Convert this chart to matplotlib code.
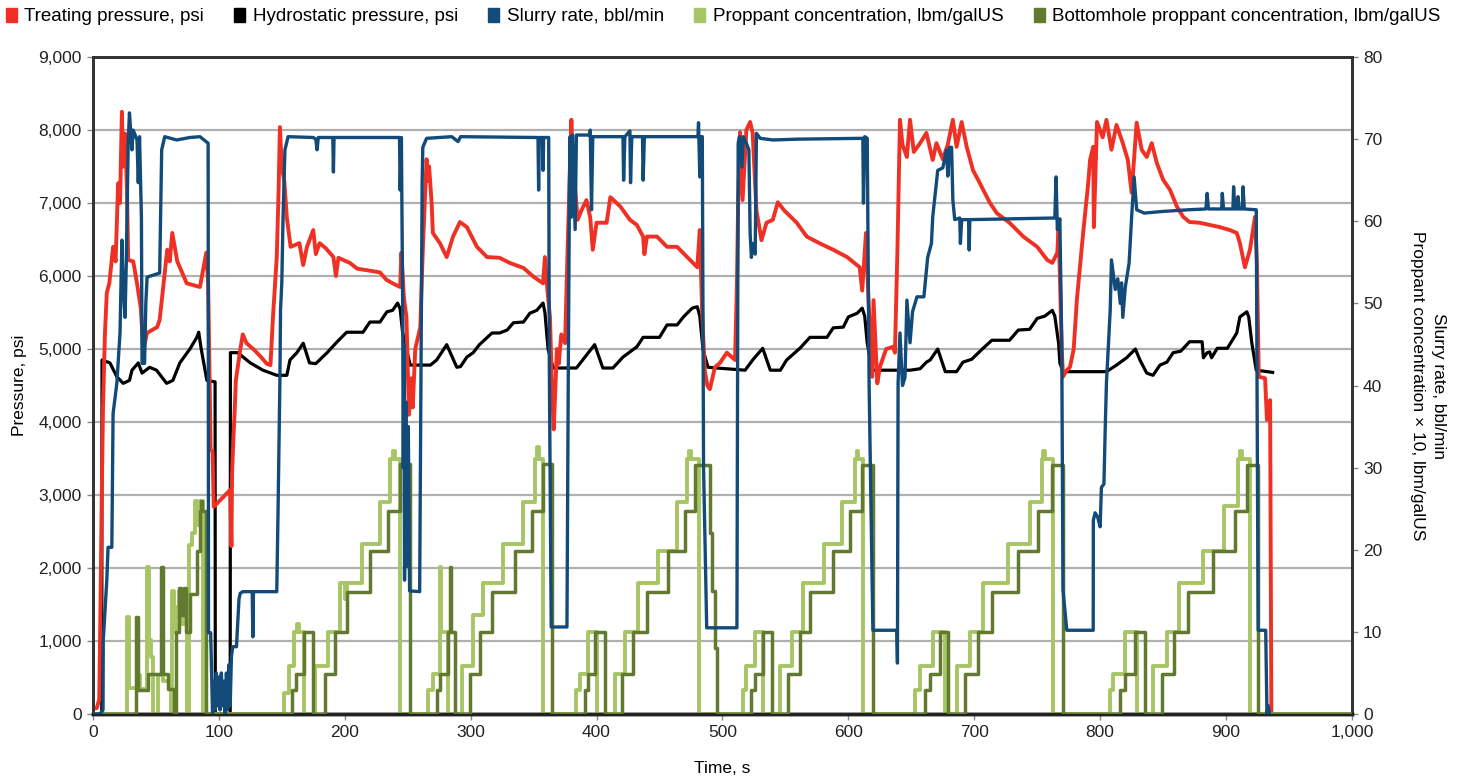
import matplotlib
matplotlib.use("Agg")
import matplotlib.pyplot as plt
from matplotlib.patches import Patch
from matplotlib.ticker import FuncFormatter, MultipleLocator

plt.rcParams['font.family'] = ['Liberation Sans', 'DejaVu Sans']

# -------- treating pressure, psi --------
treat_t = [0, 3, 5, 6, 7, 8, 9.5, 11, 13, 16, 18, 20, 21.5, 23, 24, 25.5, 27, 28, 32, 35, 38, 40, 43, 51, 53,
           59, 61, 63, 67, 74.5, 85, 90, 91.5, 93, 93.5, 95, 96, 109, 110, 110.5, 111.5, 112.5, 113.5, 117, 119,
           122, 128, 133, 138, 141, 143, 146, 147.5, 148.5, 150, 152, 154, 157, 164, 167, 170, 175, 177, 180,
           185, 191, 193, 195, 204, 210, 217.5, 228, 233, 238, 244, 245, 247, 249, 251, 253, 254, 256, 260,
           262, 265, 266, 267, 269, 270, 275.6, 281, 286, 291.5, 297, 305, 313, 323, 331, 342, 350, 357.5,
           359, 361, 363, 364.5, 366, 368.5, 370, 372, 375, 377, 380, 381, 383, 385, 388, 392, 395, 397, 400,
           408, 411, 419, 426.5, 432, 437, 438, 440, 448, 456, 464, 472, 480, 482, 484, 486, 488, 490, 494,
           498, 503.5, 510, 511.5, 512.5, 514, 516, 519, 522, 524, 527, 531, 535, 540, 544, 549, 559, 567,
           577, 588, 599, 609, 611, 614, 616, 619, 620, 623, 625, 630, 635.5, 637, 639, 641, 643, 646.5, 649,
           652, 657, 662, 667, 670, 675, 679, 683, 686, 690, 694, 699, 704.5, 712.5, 718, 728, 739, 750, 758,
           762, 766, 767, 768, 769.5, 770.5, 773.5, 776, 779, 781.5, 786.5, 790.5, 792, 794.5, 795, 797.5,
           802, 805, 809, 813, 818, 822, 825, 829, 833, 837, 841, 845, 850, 855.5, 861, 866, 871, 879, 887,
           895, 903, 908.5, 911, 915, 919, 923, 924.5, 926, 931, 932.5, 935, 936]
treat_p = [80, 80, 200, 1500, 3000, 4200, 5200, 5770, 5900, 6400, 6200, 7270, 7000, 8250, 7500, 7950, 7200,
           6220, 6200, 5900, 5560, 4990, 5220, 5300, 5400, 6360, 6200, 6590, 6200, 5900, 5850, 6320, 5900,
           4200, 3620, 3600, 2840, 3070, 2300, 3300, 3750, 4120, 4570, 4990, 5200, 5080, 4990, 4900, 4800,
           4780, 5440, 6260, 7200, 8040, 7500, 7300, 6800, 6400, 6450, 6150, 6400, 6630, 6300, 6450, 6380,
           6260, 6000, 6250, 6180, 6100, 6080, 6050, 5950, 5900, 5850, 6320, 5700, 5440, 4100, 4600, 4200,
           5000, 5300, 6360, 7600, 7300, 7500, 7000, 6590, 6450, 6260, 6540, 6740, 6670, 6400, 6260, 6250,
           6180, 6110, 5990, 5900, 6260, 5800, 5440, 4530, 3900, 5000, 4800, 5200, 5080, 6360, 8140, 7600,
           7180, 6770, 6900, 7040, 6800, 6360, 6730, 6730, 7080, 6950, 6770, 6700, 6540, 6300, 6540, 6540,
           6400, 6400, 6260, 6120, 6630, 5440, 4700, 4500, 4450, 4750, 4810, 4950, 4850, 5900, 7040, 7970,
           7040, 8000, 8110, 7960, 6900, 6490, 6730, 6770, 7010, 6900, 6730, 6540, 6450, 6360, 6260, 6120,
           5800, 6590, 5670, 4620, 5670, 4530, 4750, 5000, 5030, 4950, 6360, 8140, 7800, 7630, 8140, 7700,
           7820, 7960, 7590, 7820, 7600, 7800, 8140, 7770, 8110, 7770, 7450, 7270, 7000, 6860, 6730, 6540,
           6400, 6220, 6180, 6320, 6670, 5990, 5000, 4620, 4710, 4750, 5000, 5670, 6590, 7270, 7590, 7770,
           6670, 8110, 7900, 8140, 7730, 8070, 7820, 7590, 7140, 8100, 7730, 7630, 7820, 7550, 7320, 7180,
           6950, 6810, 6740, 6730, 6700, 6670, 6630, 6590, 6450, 6120, 6360, 6810, 6200, 4620, 4600, 4030,
           4300, 0]

# -------- hydrostatic pressure, psi --------
hydro_t = [0, 7, 7.2, 13.5, 19, 24, 29, 31, 36, 39, 45, 50.5, 58.5, 63.5, 69, 77, 82.5, 84, 86, 90.5, 97,
           97.2, 109, 109.2, 115, 125, 135, 146, 154, 156.5, 162, 167, 172, 177, 186, 194, 201.5, 214.5, 220,
           228, 233.5, 238, 242, 244, 246, 249, 252, 268, 273, 281, 289, 292, 297, 302, 307, 317, 323, 329,
           334, 342, 347, 352.5, 357.5, 359, 361.5, 365.5, 384, 389, 398.5, 405, 413, 421, 432, 437, 450,
           456, 464, 469, 476, 480, 482, 484.5, 488.5, 518, 524, 532, 538, 546, 551, 561.5, 569.5, 583, 588,
           596, 600, 607, 611, 613, 615, 619, 649, 657, 662, 665, 671, 677, 686, 691, 698, 707, 714, 728,
           735, 744, 750, 756, 762, 764, 767, 768, 770.5, 805, 813, 821, 828, 831.6, 837, 842, 847.5, 853,
           858, 864, 871, 881, 882, 885, 887, 888.5, 893, 901, 905, 908.5, 911, 916.5, 918, 920.5, 924, 937]
hydro_p = [0, 0, 4850, 4810, 4620, 4530, 4570, 4710, 4810, 4670, 4750, 4710, 4530, 4570, 4810, 5000, 5160,
           5230, 5000, 4570, 4550, 0, 0, 4950, 4950, 4810, 4710, 4640, 4640, 4850, 4950, 5080, 4810, 4800,
           4950, 5100, 5230, 5230, 5370, 5370, 5510, 5530, 5630, 5550, 5220, 5000, 4780, 4780, 4850, 5060,
           4750, 4760, 4890, 4950, 5060, 5220, 5220, 5260, 5360, 5370, 5490, 5530, 5630, 5500, 5000, 4740,
           4740, 4850, 5060, 4740, 4740, 4890, 5030, 5160, 5160, 5330, 5330, 5440, 5560, 5580, 5450, 5000,
           4750, 4710, 4850, 5010, 4710, 4710, 4850, 5010, 5160, 5160, 5290, 5300, 5440, 5490, 5560, 5450,
           5080, 4710, 4710, 4730, 4820, 4850, 5000, 4690, 4690, 4820, 4860, 5010, 5120, 5120, 5260, 5270,
           5420, 5450, 5530, 5450, 5080, 4810, 4690, 4690, 4780, 4880, 5000, 4850, 4670, 4640, 4780, 4820,
           4950, 4970, 5100, 5100, 4880, 4950, 4960, 4880, 5010, 5010, 5120, 5220, 5440, 5510, 5440, 5080,
           4710, 4680]

# -------- slurry rate, bbl/min --------
rate_t = [0, 5.5, 8, 8.2, 11, 12, 15, 16, 19, 21.5, 23, 24, 25.5, 26.5, 28, 29, 31, 32, 35, 36, 37, 38.5,
          39, 41, 42, 43, 53, 54.6, 57, 66.5, 77, 85, 91.5, 91.8, 93.5, 95, 96, 97, 98, 99, 100, 101, 102,
          103, 104, 105, 106, 107, 108, 109, 110, 111, 114, 116, 117, 119, 126.5, 127, 127.5, 146, 147, 148.5,
          149, 150, 151, 152.5, 155, 175, 177, 178, 179, 190.5, 191, 191.5, 243.5, 244, 245, 246, 246.5, 247,
          247.5, 248.5, 249.5, 250.5, 251.5, 259.5, 260.5, 261.5, 262, 265, 285, 290, 292, 353.5, 354, 354.5,
          357, 357.5, 358, 362, 362.5, 363.5, 364, 376.5, 377.5, 378.5, 379, 380, 381, 383, 384, 394.5, 395,
          396, 397, 421, 421.5, 422.5, 426.5, 427, 428, 436.5, 437, 438, 480.5, 481, 482, 483, 484, 485,
          487.5, 511.5, 512, 512.5, 513.5, 515.5, 516.5, 519, 521, 522, 523, 524, 526, 527, 530, 540, 560,
          611.5, 612, 613, 615, 616.5, 619.5, 638.5, 639, 639.5, 641, 643, 645, 646.5, 649, 651, 654.5, 660,
          663, 666, 667, 669, 671, 675, 678, 679, 680.5, 682, 683, 684.5, 688.5, 689, 690, 695.5, 696, 696.5,
          764, 765, 766, 768, 769.5, 770.5, 773.5, 794.5, 794.6, 796, 798, 800, 801, 803, 804, 805, 808, 809,
          812, 814, 816, 817, 818, 820, 823, 825, 827, 829, 835, 850, 870, 884, 885, 886, 896.5, 897, 898,
          905.5, 906, 907, 909, 909.5, 910.5, 913, 913.5, 914.5, 924, 925.5, 931.5, 932.5, 933.5, 934.5]
rate_v = [0, 0, 0.5, 9, 16.3, 20.3, 20.3, 36.6, 40.3, 46.4, 57.7, 52, 48.3, 55, 69.5, 73.2, 68.7, 71.1, 69.9,
          64.7, 70.3, 60.5, 42.7, 42.7, 50, 53.2, 53.7, 68.7, 70.3, 69.9, 70.2, 70.3, 69.5, 9.9, 9.9, 0, 4,
          0.5, 5, 1, 4.5, 0.5, 5, 1, 4, 0, 5, 0.5, 6, 1, 7, 8.2, 8.2, 14, 14.7, 14.9, 14.9, 9.4, 14.9, 14.9,
          24.5, 40.7, 49.2, 52.5, 60.5, 68.7, 70.3, 70.2, 70, 68.7, 70.2, 70.2, 66, 70.2, 70.2, 63.8, 70.2, 50,
          30, 45, 16.3, 38, 18, 35, 15, 14.9, 40, 65, 69, 70.1, 70.3, 69.7, 70.3, 70.2, 63.8, 70.2, 70.2, 66.2,
          70.2, 70.2, 42, 20, 10.6, 10.6, 40, 65, 70.3, 60.5, 70.5, 59, 70.5, 70.5, 71.1, 61.4, 70.3, 70.3, 65,
          70.3, 71, 64.7, 70.3, 70.3, 65, 70.3, 70.3, 72, 65.4, 70.3, 70.3, 30, 10.5, 10.5, 40, 69.5, 70.3,
          66.6, 70.3, 69.5, 68.7, 58.5, 55.6, 57.3, 56, 70.7, 70.1, 69.9, 70, 70.1, 62.2, 70.3, 70.1, 40,
          10.2, 10.2, 6.2, 40.3, 46.4, 40, 41, 50.4, 45.2, 49, 50.8, 50.8, 55.6, 57.3, 60.5, 63.4, 66.2, 66.5,
          68.7, 65.5, 69, 69, 62.6, 60.2, 60.4, 57.3, 60.2, 60.2, 56.5, 60.2, 60.4, 65.4, 59, 60.3, 45, 15.1,
          10.2, 10.2, 23.6, 24.5, 24, 22.8, 27.6, 28, 34.6, 40.3, 49.2, 55.3, 51.7, 53, 50, 52.5, 48.3, 52,
          54.9, 60.5, 65.4, 61.4, 61, 61.2, 61.4, 61.5, 63.4, 61.5, 61.5, 63.4, 61.5, 61.5, 64.2, 61.5, 61.5,
          63, 61.5, 61.5, 64.2, 61.5, 61.4, 10.2, 10.2, 0, 1, 0]

# -------- proppant concentration x10 (surface), step values --------
prop_t = [0, 27, 28.5, 35, 37, 43, 44.5, 46, 48, 52, 56, 62, 63, 64, 66, 68, 70, 72, 75, 76, 79, 81, 83, 85,
          87.5, 152, 156, 160, 162, 164, 168, 176, 187, 196, 200, 202, 213.5, 228, 236, 238, 240, 244,
          266, 270, 275.6, 276.5, 282, 293, 302, 310, 326, 341.5, 351, 352.5, 354, 357.5,
          384, 387, 393, 400, 414.6, 422.5, 433, 449, 464, 472, 473.5, 475, 481,
          516, 519, 526, 532, 546, 555, 564, 581, 595, 605, 606.5, 608, 611.6,
          653, 657, 667, 677, 686, 696.5, 707, 727, 744, 753.5, 755, 756.5, 762.5,
          808, 810, 820, 829, 842, 853, 863, 882, 898, 909.5, 911, 912.5, 919, 1000]
prop_c = [0, 11.8, 3.2, 4.8, 3, 17.9, 9, 7, 0, 4.8, 4, 0, 15, 10, 13, 15, 11, 13, 0, 20.6, 22, 26, 23, 26,
          0, 2.5, 5.9, 10, 11, 10, 0, 5.9, 10, 15.9, 14, 15.9, 20.7, 25.8, 31, 32, 31, 0,
          2.9, 4.9, 17.9, 10, 0, 5.9, 12, 15.9, 20.7, 25.8, 31, 32.5, 31, 0,
          2.9, 4.9, 10, 0, 4.9, 10, 15.9, 19.8, 25.8, 31, 32, 31, 0,
          2.9, 5.9, 10, 0, 5.9, 10, 15.9, 20.7, 25.8, 31, 32, 31, 0,
          2.9, 5.9, 10, 0, 5.9, 10, 15.9, 20.7, 25.8, 31, 32, 31, 0,
          2.9, 4.9, 10, 0, 5.9, 10, 15.9, 19.8, 25.3, 31, 32, 31, 0, 0]

# -------- bottomhole proppant concentration x10, step values --------
bh_t = [0, 34, 35.5, 44, 54, 55.5, 60, 64, 66, 68, 70, 72, 74, 77, 83, 85, 86, 87, 90,
        158, 161, 168, 175, 184, 192, 201.5, 220, 234, 244, 252,
        273, 275.6, 282, 283.5, 284.5, 287.5, 299.5, 307.5, 317, 335, 348.5, 357.5, 365,
        391, 393, 398.5, 406.5, 420, 429, 440, 456.7, 470, 478, 490, 492, 494, 495.6,
        523, 526, 532, 539, 552, 561.5, 569.5, 588, 601, 611, 619.6,
        661, 665, 672.7, 679, 692.6, 703, 714, 735, 750.6, 761.7, 770.5,
        816, 820, 828, 835.6, 849, 859, 869.5, 889.6, 907, 916.5, 925.5, 1000]
bh_c = [0, 11.8, 2.9, 4.9, 17.9, 4.9, 3, 0, 10, 15.3, 12, 15.3, 10, 14.6, 19.8, 24.7, 26, 24.7, 0,
        2.9, 4.9, 10, 0, 4.9, 10, 14.9, 19.8, 24.7, 30.5, 0,
        2.9, 4.9, 10, 17.9, 10, 0, 4.9, 10, 14.9, 19.8, 24.7, 30.5, 0,
        2.9, 4.9, 10, 0, 4.9, 10, 14.9, 19.8, 24.7, 30.3, 22, 15, 8, 0,
        2.9, 4.9, 10, 0, 4.9, 10, 14.9, 19.8, 24.7, 30.3, 0,
        2.9, 4.9, 10, 0, 4.9, 10, 14.9, 19.8, 24.7, 30.3, 0,
        2.9, 4.9, 10, 0, 4.9, 10, 14.9, 19.8, 24.7, 30.3, 0, 0]

RED = '#EE3124'
BLUE = '#124A7A'
LIGHT = '#A8C565'
DARK = '#627A30'

fig = plt.figure(figsize=(14.66, 7.79), dpi=100)
ax = fig.add_axes([0.0634, 0.0834, 0.8588, 0.8434])
ax2 = ax.twinx()

ax.set_xlim(0, 1000)
ax.set_ylim(0, 9000)
ax2.set_ylim(0, 80)

ax.yaxis.grid(True, color='#B0B0B0', lw=1.6)
ax.set_axisbelow(True)

ax.plot(hydro_t, hydro_p, color='black', lw=2.3, zorder=3)
ax.plot(treat_t, treat_p, color=RED, lw=2.8, zorder=4)

ax2.plot(prop_t, prop_c, color=LIGHT, lw=2.8, drawstyle='steps-post', zorder=2)
ax2.plot(bh_t, bh_c, color=DARK, lw=2.5, drawstyle='steps-post', zorder=3)
ax2.plot(rate_t, rate_v, color=BLUE, lw=2.4, zorder=4)

comma = FuncFormatter(lambda v, p: f"{int(v):,}")
ax.xaxis.set_major_locator(MultipleLocator(100))
ax.xaxis.set_major_formatter(comma)
ax.yaxis.set_major_locator(MultipleLocator(1000))
ax.yaxis.set_major_formatter(comma)
ax2.yaxis.set_major_locator(MultipleLocator(10))

for a in (ax, ax2):
    a.tick_params(axis='both', direction='out', length=4, width=1, color='#888888',
                  labelsize=12.5, labelcolor='#222222', pad=4)
    for side in ('left', 'top', 'right'):
        a.spines[side].set_color('#333333')
        a.spines[side].set_linewidth(2)
    a.spines['bottom'].set_color('#222222')
    a.spines['bottom'].set_linewidth(2.5)

ax.set_xlabel("Time, s", fontsize=12.5, labelpad=15)
ax.set_ylabel("Pressure, psi", fontsize=12.5, labelpad=8)
ax2.set_ylabel("Slurry rate, bbl/min\nProppant concentration \u00d7 10, lbm/galUS",
               fontsize=12.5, rotation=270, labelpad=46, linespacing=1.55)

handles = [Patch(color=RED), Patch(color='black'), Patch(color=BLUE), Patch(color=LIGHT), Patch(color=DARK)]
labels = ["Treating pressure, psi", "Hydrostatic pressure, psi", "Slurry rate, bbl/min",
          "Proppant concentration, lbm/galUS", "Bottomhole proppant concentration, lbm/galUS"]
fig.legend(handles, labels, loc='upper left', bbox_to_anchor=(0.0, 0.997), ncol=5, frameon=False,
           fontsize=13.5, handlelength=0.6, handleheight=0.75, handletextpad=0.4, columnspacing=1.6,
           borderpad=0.2, borderaxespad=0.1)

fig.savefig("out.png", dpi=100)
